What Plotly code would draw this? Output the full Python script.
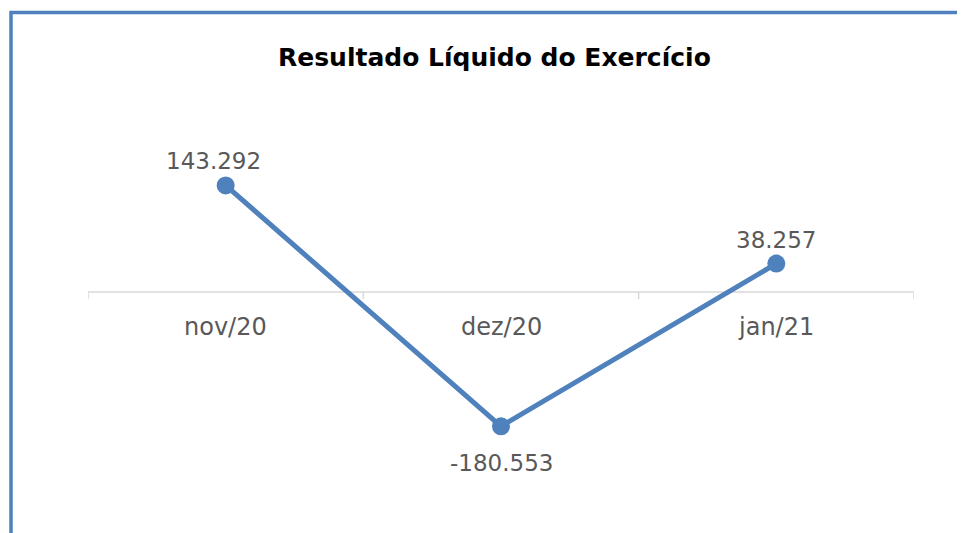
import plotly.graph_objects as go

categories = ["nov/20", "dez/20", "jan/21"]
values = [143292, -180553, 38257]
title_text = "Resultado Líquido do Exercício"

def fmt(v):
    s = f"{abs(v):,}".replace(",", ".")
    return ("-" if v < 0 else "") + s

W, H = 965, 533
OFF = 8  # page offset of the figure in the browser
PX0, PX1, PY0, PY1 = 88, 914, 106, 478
pw, ph = PX1 - PX0, PY1 - PY0
L, T = PX0 - OFF, PY0 - OFF
R, B = W - L - pw, H - T - ph

def px_x(p):
    return (p - PX0) / pw

def px_y(p):
    return (PY1 - p) / ph

BLUE = "#4F81BD"
GRAY = "#595959"
FONT = "DejaVu Sans"

xs = list(range(len(categories)))

fig = go.Figure()
fig.add_trace(go.Scatter(
    x=xs, y=values, mode="lines+markers",
    line=dict(color=BLUE, width=5),
    marker=dict(color=BLUE, size=18),
    cliponaxis=False, hoverinfo="skip", showlegend=False,
))

shapes = []
shapes.append(dict(type="line", xref="x", yref="y", x0=-0.5, x1=len(categories) - 0.5, y0=0, y1=0,
                   line=dict(color="#D9D9D9", width=1.5), layer="below"))
for i in range(len(categories) + 1):
    shapes.append(dict(type="line", xref="x", yref="y", ysizemode="pixel", yanchor=0,
                       x0=i - 0.5, x1=i - 0.5, y0=0, y1=-7,
                       line=dict(color="#D9D9D9", width=1.5), layer="below"))
shapes.append(dict(type="path", xref="paper", yref="paper",
                   path=f"M {px_x(11)} {px_y(560)} L {px_x(11)} {px_y(12.5)} L {px_x(990)} {px_y(12.5)}",
                   line=dict(color=BLUE, width=3.5)))

annotations = []
# data labels
for i, (x, v) in enumerate(zip(xs, values)):
    above = v >= 0
    annotations.append(dict(x=x, y=v, xref="x", yref="y", text=fmt(v), showarrow=False,
                            xanchor="center", yanchor="middle",
                            xshift=-12 if i == 0 else 0,
                            yshift=24 if above else -37,
                            font=dict(family=FONT, size=23, color=GRAY)))
# category labels
for x, c in zip(xs, categories):
    annotations.append(dict(x=x, y=0, xref="x", yref="y", text=c, showarrow=False,
                            yanchor="middle", yshift=-35,
                            font=dict(family=FONT, size=24, color=GRAY)))
annotations.append(dict(x=px_x(494), y=px_y(58), xref="paper", yref="paper", text=f"<b>{title_text}</b>",
                        showarrow=False, xanchor="center", yanchor="middle",
                        font=dict(family=FONT, size=25, color="#000000")))

fig.update_layout(
    width=W, height=H,
    margin=dict(l=L, r=R, t=T, b=B),
    paper_bgcolor="white", plot_bgcolor="white",
    xaxis=dict(range=[-0.5, len(categories) - 0.5], visible=False, fixedrange=True),
    yaxis=dict(range=[-250000, 250000], visible=False, fixedrange=True),
    shapes=shapes, annotations=annotations,
)

fig.write_html("out.html")
